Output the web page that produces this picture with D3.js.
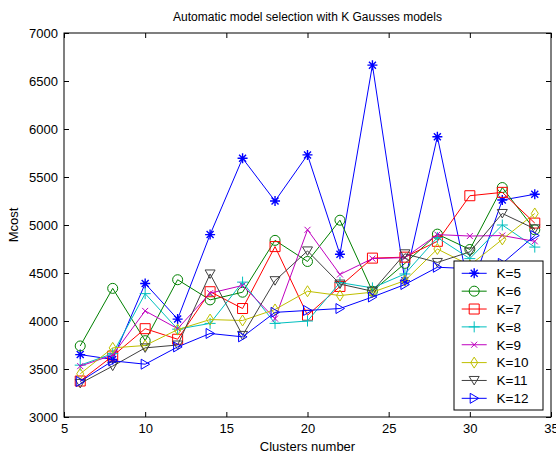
<!DOCTYPE html>
<html>
<head>
<meta charset="utf-8">
<script src="https://cdn.jsdelivr.net/npm/d3@7"></script>
<style>
  body { margin: 0; background: #fff; }
  text { font-family: "Liberation Sans", Arial, sans-serif; fill: #000; }
</style>
</head>
<body>
<script>
// cluster numbers on the x axis
var clusters = [6, 8, 10, 12, 14, 16, 18, 20, 22, 24, 26, 28, 30, 32, 34];

// Mcost per K
var k5  = [3650, 3600, 4390, 4020, 4900, 5695, 5250, 5730, 4695, 6665, 4420, 5920, 4300, 5260, 5320];
var k6  = [3740, 4340, 3795, 4430, 4220, 4300, 4840, 4620, 5050, 4310, 4600, 4905, 4745, 5390, 4950];
var k7  = [3375, 3635, 3920, 3810, 4305, 4130, 4775, 4060, 4360, 4655, 4665, 4830, 5305, 5340, 5020];
var k8  = [3540, 3660, 4285, 3915, 3975, 4405, 3975, 4000, 4400, 4345, 4490, 4870, 4650, 5000, 4770];
var k9  = [3530, 3645, 4105, 3920, 4290, 4370, 4025, 4950, 4485, 4650, 4660, 4900, 4885, 4890, 4830];
var k10 = [3450, 3720, 3745, 3910, 4015, 4005, 4120, 4310, 4265, 4300, 4420, 4750, 4580, 4850, 5120];
var k11 = [3350, 3530, 3720, 3750, 4490, 3850, 4420, 4730, 4385, 4310, 4700, 4610, 4720, 5120, 4960];
var k12 = [3370, 3585, 3550, 3730, 3870, 3835, 4090, 4110, 4130, 4250, 4380, 4560, 4545, 4600, 4890];

var xTicks = [5, 10, 15, 20, 25, 30, 35];
var yTicks = [3000, 3500, 4000, 4500, 5000, 5500, 6000, 6500, 7000];

var series = [
    {name: "K=5",  values: k5,  color: "#0000ff", marker: "star"},
    {name: "K=6",  values: k6,  color: "#008000", marker: "circle"},
    {name: "K=7",  values: k7,  color: "#ff0000", marker: "square"},
    {name: "K=8",  values: k8,  color: "#00bfbf", marker: "plus"},
    {name: "K=9",  values: k9,  color: "#bf00bf", marker: "cross"},
    {name: "K=10", values: k10, color: "#bfbf00", marker: "diamond"},
    {name: "K=11", values: k11, color: "#404040", marker: "tridown"},
    {name: "K=12", values: k12, color: "#0000ff", marker: "triright"}
];

var margin = {top: 33, right: 5, bottom: 40, left: 64},
    width = 556 - margin.left - margin.right,
    height = 457 - margin.top - margin.bottom;

var x = d3.scaleLinear().domain([5, 35]).range([0, width]);
var y = d3.scaleLinear().domain([3000, 7000]).range([height, 0]);

var svg = d3.select("body").append("svg")
    .attr("width", 556)
    .attr("height", 457);

var g = svg.append("g")
    .attr("transform", "translate(" + margin.left + "," + margin.top + ")");

// marker shapes, like the matlab ones
function markerPath(type) {
    switch (type) {
        case "star": return "M-5,0H5M0,-5V5M-3.5,-3.5L3.5,3.5M-3.5,3.5L3.5,-3.5";
        case "circle": return "M5,0A5,5 0 1,1 -5,0A5,5 0 1,1 5,0Z";
        case "square": return "M-5,-5H5V5H-5Z";
        case "plus": return "M-5.5,0H5.5M0,-5.5V5.5";
        case "cross": return "M-3,-3L3,3M-3,3L3,-3";
        case "diamond": return "M0,-5.5L3.5,0L0,5.5L-3.5,0Z";
        case "tridown": return "M-5,-4H5L0,4.5Z";
        case "triright": return "M-4,-5L4.5,0L-4,5Z";
    }
}

var fmt = d3.format("d");

// axes with inside ticks on all four sides
g.append("g")
    .attr("transform", "translate(0," + height + ")")
    .call(d3.axisBottom(x).tickValues(xTicks).tickFormat(fmt).tickSizeInner(-5).tickSizeOuter(0).tickPadding(7))
    .call(function (a) { a.select(".domain").remove(); });
g.append("g")
    .call(d3.axisTop(x).tickValues(xTicks).tickSizeInner(-5).tickSizeOuter(0).tickFormat(""))
    .call(function (a) { a.select(".domain").remove(); });
g.append("g")
    .call(d3.axisLeft(y).tickValues(yTicks).tickFormat(fmt).tickSizeInner(-5).tickSizeOuter(0).tickPadding(6))
    .call(function (a) { a.select(".domain").remove(); });
g.append("g")
    .attr("transform", "translate(" + width + ",0)")
    .call(d3.axisRight(y).tickValues(yTicks).tickSizeInner(-5).tickSizeOuter(0).tickFormat(""))
    .call(function (a) { a.select(".domain").remove(); });

g.selectAll(".tick text").attr("font-size", 13).attr("font-family", null);
g.selectAll(".tick line").attr("stroke", "#000");

g.append("rect")
    .attr("width", width)
    .attr("height", height)
    .attr("fill", "none")
    .attr("stroke", "#000");

// lines
var line = d3.line()
    .x(function (d, i) { return x(clusters[i]); })
    .y(function (d) { return y(d); });

var lines = g.append("g").selectAll("g")
    .data(series)
    .enter().append("g");

lines.append("path")
    .attr("d", function (d) { return line(d.values); })
    .attr("fill", "none")
    .attr("stroke", function (d) { return d.color; })
    .attr("stroke-width", 1);

lines.selectAll(".mk")
    .data(function (d) {
        return d.values.map(function (v, i) {
            return {x: clusters[i], y: v, s: d};
        });
    })
    .enter().append("path")
    .attr("class", "mk")
    .attr("transform", function (d) { return "translate(" + x(d.x) + "," + y(d.y) + ")"; })
    .attr("d", function (d) { return markerPath(d.s.marker); })
    .attr("fill", "none")
    .attr("stroke", function (d) { return d.s.color; })
    .attr("stroke-width", function (d) { return d.s.marker == "star" ? 1.4 : 1; });

// title and axis labels
svg.append("text")
    .attr("x", margin.left + width / 2)
    .attr("y", 21)
    .attr("text-anchor", "middle")
    .attr("font-size", 12)
    .text("Automatic model selection with K Gausses models");

svg.append("text")
    .attr("x", margin.left + width / 2)
    .attr("y", 451)
    .attr("text-anchor", "middle")
    .attr("font-size", 13)
    .text("Clusters number");

svg.append("text")
    .attr("transform", "translate(18," + (margin.top + height / 2) + ") rotate(-90)")
    .attr("text-anchor", "middle")
    .attr("font-size", 13)
    .text("Mcost");

// legend box
var legend = svg.append("g")
    .attr("transform", "translate(454,261)");

legend.append("rect")
    .attr("width", 89)
    .attr("height", 149)
    .attr("fill", "#fff")
    .attr("stroke", "#000");

var item = legend.selectAll(".item")
    .data(series)
    .enter().append("g")
    .attr("class", "item")
    .attr("transform", function (d, i) { return "translate(0," + (12.3 + i * 17.86) + ")"; });

item.append("line")
    .attr("x1", 7.7)
    .attr("x2", 32.7)
    .attr("stroke", function (d) { return d.color; });

item.append("path")
    .attr("transform", "translate(20.2,0)")
    .attr("d", function (d) { return markerPath(d.marker); })
    .attr("fill", "none")
    .attr("stroke", function (d) { return d.color; })
    .attr("stroke-width", function (d) { return d.marker == "star" ? 1.4 : 1; });

item.append("text")
    .attr("x", 42.5)
    .attr("dy", "0.36em")
    .attr("font-size", 13.5)
    .text(function (d) { return d.name; });
</script>
</body>
</html>
